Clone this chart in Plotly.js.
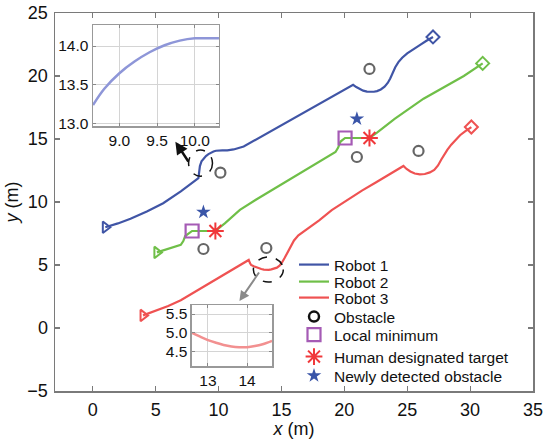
<!DOCTYPE html>
<html>
<head>
<meta charset="utf-8">
<script src="https://cdn.plot.ly/plotly-3.0.1.min.js"></script>
<style>html,body{margin:0;padding:0;background:#fff;}#chart{width:547px;height:439px;}</style>
</head>
<body>
<div id="chart"></div>
<script>
// ---- data ----
const robot1X = [1.0, 2.0, 3.0, 4.3, 5.6, 7.0, 8.4, 8.45, 8.52, 8.65, 8.8, 9.0, 9.2, 9.4, 9.6, 9.8, 10.0, 10.3, 10.7, 11.2, 12.0, 14.5, 16.5, 18.5, 20.7, 20.95, 21.2, 21.5, 21.8, 22.05, 22.35, 22.6, 22.9, 23.2, 23.45, 23.65, 23.85, 24.05, 24.3, 24.6, 25.0, 25.5, 26.0, 26.5, 27.05];
const robot1Y = [8.0, 8.3, 8.67, 9.25, 9.9, 10.85, 11.9, 12.4, 12.85, 13.24, 13.46, 13.65, 13.8, 13.92, 14.01, 14.07, 14.1, 14.1, 14.1, 14.17, 14.4, 15.8, 16.9, 18.05, 19.3, 19.12, 18.97, 18.84, 18.76, 18.73, 18.75, 18.8, 18.93, 19.15, 19.45, 19.8, 20.25, 20.7, 21.1, 21.45, 21.8, 22.1, 22.45, 22.78, 23.1];

const robot2X = [5.1, 6.0, 7.0, 7.2, 7.35, 7.9, 9.75, 10.5, 11.7, 13.0, 15.0, 17.0, 19.3, 19.5, 19.7, 20.06, 22.0, 22.6, 24.0, 26.3, 27.9, 29.5, 31.0];
const robot2Y = [6.0, 6.3, 6.6, 6.9, 7.3, 7.7, 7.7, 8.3, 9.37, 10.2, 11.4, 12.6, 13.97, 14.3, 14.8, 15.08, 15.08, 15.5, 16.6, 18.2, 19.1, 20.0, 21.0];

const robot3X = [4.0, 5.0, 6.0, 7.0, 8.0, 9.0, 10.0, 11.2, 12.4, 12.5, 12.59, 12.8, 13.0, 13.2, 13.4, 13.6, 13.8, 14.0, 14.2, 14.4, 14.64, 14.85, 15.05, 15.25, 15.45, 15.7, 16.0, 16.35, 16.7, 17.3, 18.0, 19.0, 20.2, 21.4, 22.5, 23.6, 24.7, 24.95, 25.25, 25.6, 26.0, 26.4, 26.8, 27.15, 27.45, 27.7, 27.95, 28.2, 28.5, 28.85, 29.2, 29.6, 30.1];
const robot3Y = [1.0, 1.35, 1.75, 2.2, 2.8, 3.4, 3.98, 4.69, 5.4, 5.15, 5.0, 4.9, 4.81, 4.74, 4.68, 4.64, 4.62, 4.62, 4.65, 4.7, 4.79, 4.95, 5.2, 5.55, 5.95, 6.45, 6.95, 7.35, 7.6, 8.0, 8.55, 9.35, 10.16, 10.9, 11.55, 12.2, 12.86, 12.62, 12.42, 12.26, 12.2, 12.22, 12.35, 12.55, 12.9, 13.35, 13.8, 14.15, 14.55, 14.95, 15.3, 15.6, 15.95];

const obstacleX = [10.15, 8.8, 13.8, 22.0, 21.0, 25.9];
const obstacleY = [12.33, 6.27, 6.35, 20.56, 13.57, 14.05];

const localMinX = [7.9, 20.06];
const localMinY = [7.7, 15.08];

const targetX = [9.75, 22.0];
const targetY = [7.7, 15.08];

const newObsX = [8.8, 21.0];
const newObsY = [9.2, 16.6];

const inset1X = [8.65, 8.8, 9.0, 9.2, 9.4, 9.6, 9.8, 10.0, 10.15, 10.32];
const inset1Y = [13.24, 13.45, 13.65, 13.8, 13.92, 14.01, 14.07, 14.1, 14.1, 14.1];

const inset2X = [12.59, 12.8, 13.0, 13.2, 13.4, 13.6, 13.8, 14.0, 14.2, 14.4, 14.64];
const inset2Y = [5.0, 4.9, 4.81, 4.74, 4.68, 4.64, 4.62, 4.62, 4.65, 4.7, 4.79];

const mainXTicks = [0, 5, 10, 15, 20, 25, 30, 35];
const mainYTicks = [-5, 0, 5, 10, 15, 20, 25];
const inset1XTicks = [9.0, 9.5, 10.0];
const inset1XLabels = ['9.0', '9.5', '10.0'];
const inset1YTicks = [13.0, 13.5, 14.0];
const inset1YLabels = ['13.0', '13.5', '14.0'];
const inset2XTicks = [13, 14];
const inset2XLabels = ['13', '14'];
const inset2YTicks = [4.5, 5.0, 5.5];
const inset2YLabels = ['4.5', '5.0', '5.5'];

const names = ['Robot 1', 'Robot 2', 'Robot 3', 'Obstacle', 'Local minimum', 'Human designated target', 'Newly detected obstacle'];

// ---- styles ----
const blue = '#4055a6', green = '#6fbf48', red = '#ef5252';
const font = 'Arial, "Liberation Sans", Helvetica, sans-serif';

function endMarkers(xs, ys, color) {
  return [
    {x: [xs[0]], y: [ys[0]], mode: 'markers', type: 'scatter', showlegend: false,
     marker: {symbol: 'triangle-right-open', size: 10, color: color, line: {width: 2, color: color}}},
    {x: [xs[xs.length - 1]], y: [ys[ys.length - 1]], mode: 'markers', type: 'scatter', showlegend: false,
     marker: {symbol: 'diamond-open', size: 10, color: color, line: {width: 2, color: color}}}
  ];
}

const traces = [
  {x: robot1X, y: robot1Y, name: names[0], legend: 'legend', mode: 'lines', type: 'scatter', line: {color: blue, width: 2.2}},
  {x: robot2X, y: robot2Y, name: names[1], legend: 'legend2', mode: 'lines', type: 'scatter', line: {color: green, width: 2.2}},
  {x: robot3X, y: robot3Y, name: names[2], legend: 'legend3', mode: 'lines', type: 'scatter', line: {color: red, width: 2.2}},
  ...endMarkers(robot1X, robot1Y, blue),
  ...endMarkers(robot2X, robot2Y, green),
  ...endMarkers(robot3X, robot3Y, red),
  {x: obstacleX, y: obstacleY, name: names[3], mode: 'markers', type: 'scatter', showlegend: false,
   marker: {symbol: 'circle-open', size: 10, color: '#666', line: {width: 2.2, color: '#666'}}},
  {x: [null], y: [null], name: names[3], legend: 'legend4', mode: 'markers', type: 'scatter',
   marker: {symbol: 'circle-open', size: 10, color: '#111', line: {width: 2.5, color: '#111'}}},
  {x: localMinX, y: localMinY, name: names[4], legend: 'legend5', mode: 'markers', type: 'scatter',
   marker: {symbol: 'square-open', size: 13, color: '#a55bb5', line: {width: 2.2, color: '#a55bb5'}}},
  {x: targetX, y: targetY, name: names[5], legend: 'legend6', mode: 'markers', type: 'scatter',
   marker: {symbol: 'asterisk-open', size: 14, color: '#f0383a', line: {width: 2, color: '#f0383a'}}},
  {x: newObsX, y: newObsY, name: names[6], legend: 'legend7', mode: 'markers', type: 'scatter',
   marker: {symbol: 'star', size: 11, color: '#3a55a8', line: {width: 0}}},
  {x: inset1X, y: inset1Y, xaxis: 'x2', yaxis: 'y2', mode: 'lines', type: 'scatter', showlegend: false,
   line: {color: '#8e96d8', width: 2.5, shape: 'spline'}},
  {x: inset2X, y: inset2Y, xaxis: 'x3', yaxis: 'y3', mode: 'lines', type: 'scatter', showlegend: false,
   line: {color: '#f29090', width: 2.5, shape: 'spline'}}
];

const mainAxis = {
  showgrid: false, zeroline: false, showline: true, linecolor: '#7a7a7a', linewidth: 1.5,
  mirror: 'ticks', ticks: 'inside', ticklen: 5, tickcolor: '#7a7a7a', tickwidth: 1.2,
  tickfont: {size: 18, color: '#111', family: font}, ticklabelstandoff: 2
};
const insetAxis = {
  showgrid: true, gridcolor: '#d4d4d4', gridwidth: 1, zeroline: false, showline: true,
  linecolor: '#999', linewidth: 1.5, mirror: 'ticks', ticks: 'inside', ticklen: 3, tickcolor: '#888',
  tickfont: {size: 15.5, color: '#111', family: font}, tickmode: 'array'
};

// one legend per row so that the row spacing can match the original
const legendRowsPx = [265, 282, 298, 317, 335, 357, 376];
const plotTop = 13, plotH = 378, legendLeft = 0.5;
function legendAt(rowPx) {
  return {x: legendLeft, y: 1 - (rowPx - plotTop) / plotH, xanchor: 'left', yanchor: 'middle',
    bgcolor: 'rgba(0,0,0,0)', font: {size: 15.5, family: font, color: '#111'}, itemwidth: 30,
    borderwidth: 0};
}

const layout = {
  width: 547, height: 439,
  margin: {l: 55, r: 14, t: 13, b: 48, pad: 0},
  paper_bgcolor: '#fff', plot_bgcolor: '#fff',
  font: {family: font, color: '#111'},
  xaxis: Object.assign({}, mainAxis, {range: [-3, 35], tickmode: 'array', tickvals: mainXTicks,
    title: {text: '<i>x</i> (m)', font: {size: 18, family: font}, standoff: 0}}),
  yaxis: Object.assign({}, mainAxis, {range: [-5, 25], tickmode: 'array', tickvals: mainYTicks,
    title: {text: '<i>y</i> (m)', font: {size: 18, family: font}, standoff: 4}}),
  xaxis2: Object.assign({}, insetAxis, {domain: [0.0795, 0.343], anchor: 'y2', range: [8.65, 10.32],
    tickvals: inset1XTicks, ticktext: inset1XLabels}),
  yaxis2: Object.assign({}, insetAxis, {domain: [0.701, 0.968], anchor: 'x2', range: [12.97, 14.27],
    tickvals: inset1YTicks, ticktext: inset1YLabels}),
  xaxis3: Object.assign({}, insetAxis, {domain: [0.2866, 0.454], anchor: 'y3', range: [12.59, 14.64],
    tickvals: inset2XTicks, ticktext: inset2XLabels}),
  yaxis3: Object.assign({}, insetAxis, {domain: [0.066, 0.2275], anchor: 'x3', range: [4.12, 5.74],
    tickvals: inset2YTicks, ticktext: inset2YLabels}),
  legend: legendAt(legendRowsPx[0]),
  legend2: legendAt(legendRowsPx[1]),
  legend3: legendAt(legendRowsPx[2]),
  legend4: legendAt(legendRowsPx[3]),
  legend5: legendAt(legendRowsPx[4]),
  legend6: legendAt(legendRowsPx[5]),
  legend7: legendAt(legendRowsPx[6]),
  shapes: [
    {type: 'circle', xref: 'x', yref: 'y', x0: 7.62, x1: 9.52, y0: 12.05, y1: 14.12,
     line: {color: '#111', width: 1.5, dash: 'dash'}},
    {type: 'circle', xref: 'x', yref: 'y', x0: 12.77, x1: 15.15, y0: 3.65, y1: 5.63,
     line: {color: '#111', width: 1.5, dash: 'dash'}}
  ],
  annotations: [
    {x: 6.57, y: 14.79, ax: 7.68, ay: 13.1, xref: 'x', yref: 'y', axref: 'x', ayref: 'y',
     text: '', showarrow: true, arrowhead: 2, arrowsize: 1, arrowwidth: 2.5, arrowcolor: '#111'},
    {x: 11.66, y: 2.14, ax: 13.3, ay: 4.52, xref: 'x', yref: 'y', axref: 'x', ayref: 'y',
     text: '', showarrow: true, arrowhead: 2, arrowsize: 1, arrowwidth: 2, arrowcolor: '#8a8a8a'}
  ]
};

Plotly.newPlot('chart', traces, layout, {staticPlot: true, displayModeBar: false});
</script>
</body>
</html>
